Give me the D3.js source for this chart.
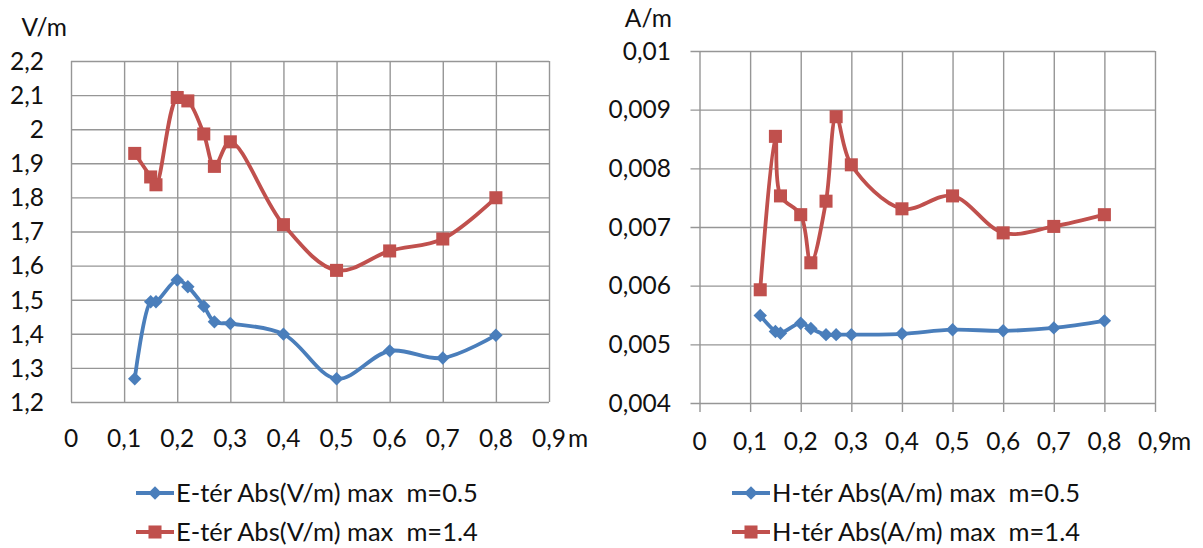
<!DOCTYPE html>
<html>
<head>
<meta charset="utf-8">
<script src="https://cdn.jsdelivr.net/npm/d3@7"></script>
<style>
  html, body { margin: 0; padding: 0; background: #fff; }
  svg { display: block; }
  text { font-family: Lato, "Open Sans", sans-serif; fill: #111; }
</style>
</head>
<body>
<svg id="chart" width="1203" height="548"></svg>
<script>
// ---- data ----
const xValues = [0.12, 0.15, 0.16, 0.2, 0.22, 0.25, 0.27, 0.3, 0.4, 0.5, 0.6, 0.7, 0.8];

const eField05 = [1.268, 1.494, 1.494, 1.558, 1.538, 1.481, 1.435, 1.43, 1.399, 1.268, 1.35, 1.329, 1.396];
const eField14 = [1.929, 1.86, 1.837, 2.093, 2.083, 1.986, 1.891, 1.963, 1.72, 1.586, 1.643, 1.678, 1.799];

const hField05 = [0.00549, 0.00522, 0.00519, 0.00536, 0.00527, 0.005165, 0.005165, 0.005165, 0.00518, 0.00525, 0.00523, 0.00528, 0.0054];
const hField14 = [0.00593, 0.008545, 0.00753, 0.00721, 0.00639, 0.00744, 0.00888, 0.00806, 0.00731, 0.00753, 0.0069, 0.00701, 0.00721];

const xTicks = [0, 0.1, 0.2, 0.3, 0.4, 0.5, 0.6, 0.7, 0.8, 0.9];
const eTicks = [1.2, 1.3, 1.4, 1.5, 1.6, 1.7, 1.8, 1.9, 2.0, 2.1, 2.2];
const hTicks = [0.004, 0.005, 0.006, 0.007, 0.008, 0.009, 0.01];

const eLegend = ["E-tér Abs(V/m) max  m=0.5", "E-tér Abs(V/m) max  m=1.4"];
const hLegend = ["H-tér Abs(A/m) max  m=0.5", "H-tér Abs(A/m) max  m=1.4"];

const BLUE = "#4a7ebb";
const RED = "#c0504d";
const GRID = "#969696";
const FS = 24.5;
const LFS = 25.5;

const fmt = v => String(+v.toPrecision(6)).replace(".", ",");

const svg = d3.select("#chart");

function drawChart(cfg) {
  const x = d3.scaleLinear().domain([0, 0.9]).range([cfg.left, cfg.right]);
  const y = d3.scaleLinear().domain(cfg.yDomain).range([cfg.bottom, cfg.top]);
  const g = svg.append("g");

  // horizontal grid
  const yAxis = d3.axisLeft(y).tickValues(cfg.yTicks).tickSize(0).tickFormat("");
  g.append("g").attr("transform", `translate(${cfg.left},0)`).call(yAxis)
    .call(a => a.select(".domain").remove())
    .call(a => a.selectAll("line").attr("stroke", GRID).attr("stroke-width", 1.4)
      .attr("x1", -cfg.tick).attr("x2", cfg.right - cfg.left));

  // vertical grid
  const xAxis = d3.axisBottom(x).tickValues(xTicks).tickSize(0).tickFormat("");
  g.append("g").attr("transform", `translate(0,${cfg.bottom})`).call(xAxis)
    .call(a => a.select(".domain").remove())
    .call(a => a.selectAll("line").attr("stroke", GRID).attr("stroke-width", 1.4)
      .attr("y1", cfg.tick).attr("y2", -(cfg.bottom - cfg.top)));

  // y tick labels
  g.selectAll(".ylab").data(cfg.yTicks).join("text")
    .attr("x", cfg.yLabelX).attr("y", d => y(d)).attr("dy", "0.36em")
    .attr("text-anchor", "end").attr("font-size", FS)
    .text(d => fmt(d));

  // x tick labels
  g.selectAll(".xlab").data(xTicks).join("text")
    .attr("x", d => x(d)).attr("y", cfg.bottom + cfg.xLabelOff).attr("dy", "0.36em")
    .attr("text-anchor", "middle").attr("font-size", FS)
    .text(d => fmt(d));

  // "m" unit after 0,9
  g.append("text").attr("x", x(0.9) + cfg.mOff).attr("y", cfg.bottom + cfg.xLabelOff).attr("dy", "0.36em")
    .attr("font-size", FS).text("m");

  // y unit
  g.append("text").attr("x", cfg.unitX).attr("y", cfg.unitY).attr("dy", "0.36em")
    .attr("text-anchor", "end").attr("font-size", FS).text(cfg.unit);

  const line = d3.line().x(d => x(d[0])).y(d => y(d[1])).curve(d3.curveCatmullRom.alpha(0.5));

  cfg.series.forEach((s, i) => {
    const pts = xValues.map((xv, k) => [xv, s.values[k]]);
    g.append("path").datum(pts).attr("fill", "none").attr("stroke", s.color)
      .attr("stroke-width", 3.8).attr("stroke-linejoin", "round").attr("d", line);
    const sym = d3.symbol().type(s.square ? d3.symbolSquare : d3.symbolDiamond2).size(s.square ? 170 : 115);
    g.selectAll(null).data(pts).join("path")
      .attr("transform", d => `translate(${x(d[0])},${y(d[1])})`)
      .attr("d", sym).attr("fill", s.color);

    // legend
    const ly = cfg.legendY[i];
    g.append("line").attr("x1", cfg.legendX).attr("x2", cfg.legendX + 38)
      .attr("y1", ly).attr("y2", ly).attr("stroke", s.color).attr("stroke-width", 3.8);
    g.append("path").attr("transform", `translate(${cfg.legendX + 19},${ly})`)
      .attr("d", sym).attr("fill", s.color);
    g.append("text").attr("x", cfg.legendX + 40).attr("y", ly).attr("dy", "0.36em")
      .attr("font-size", LFS).attr("xml:space", "preserve").style("white-space", "pre")
      .text(cfg.legend[i]);
  });
}

drawChart({
  left: 71, right: 549, top: 61, bottom: 402, tick: 0,
  yDomain: [1.2, 2.2], yTicks: eTicks, yLabelX: 44, xLabelOff: 36, mOff: 19,
  unit: "V/m", unitX: 67, unitY: 27,
  legendX: 136, legendY: [493, 532], legend: eLegend,
  series: [
    { values: eField05, color: BLUE, square: false },
    { values: eField14, color: RED, square: true }
  ]
});

drawChart({
  left: 699.5, right: 1155, top: 51, bottom: 403, tick: 9,
  yDomain: [0.004, 0.01], yTicks: hTicks, yLabelX: 671, xLabelOff: 38, mOff: 16,
  unit: "A/m", unitX: 672, unitY: 18,
  legendX: 732, legendY: [493, 532], legend: hLegend,
  series: [
    { values: hField05, color: BLUE, square: false },
    { values: hField14, color: RED, square: true }
  ]
});
</script>
</body>
</html>
